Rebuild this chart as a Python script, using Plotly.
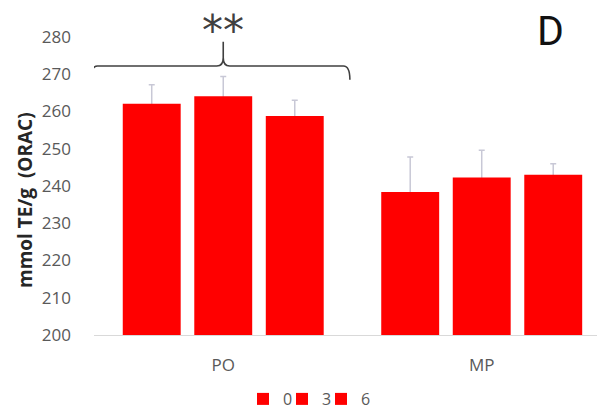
import plotly.graph_objects as go

# ORAC antioxidant capacity by product and storage month
products = ["PO", "MP"]
months = ["0", "3", "6"]
orac_mean = {
    "0": [262.1, 238.4],
    "3": [264.1, 242.3],
    "6": [258.8, 243.0],
}
orac_sd = {
    "0": [5.1, 9.4],
    "3": [5.3, 7.3],
    "6": [4.2, 3.0],
}
y_ticks = [200, 210, 220, 230, 240, 250, 260, 270, 280]
y_range = [200, 280]

BAR_RED = "#ff0000"
TICK_GREY = "#595959"
FONT = "Open Sans"
W, H = 597, 409
M_L, M_T, M_B = 94, 37, 74

fig = go.Figure()
xpos = list(range(len(products)))

# SD whiskers first, on transparent bars sharing each month's slot,
# so the solid bars drawn afterwards hide the lower half
for m in months:
    fig.add_trace(go.Bar(
        x=xpos,
        y=orac_mean[m],
        offsetgroup=m,
        showlegend=False,
        hoverinfo="skip",
        marker=dict(color="rgba(0,0,0,0)", line=dict(width=0)),
        error_y=dict(
            type="data",
            array=orac_sd[m],
            color="#c8c8d6",
            thickness=1.5,
            width=3,
        ),
    ))

legend_ids = ["legend", "legend2", "legend3"]
legend_centres = [263, 302, 341]  # symbol centres, px from the left
for m, lg in zip(months, legend_ids):
    fig.add_trace(go.Bar(
        x=xpos,
        y=orac_mean[m],
        name=m,
        offsetgroup=m,
        legend=lg,
        marker=dict(color=BAR_RED, line=dict(width=0)),
    ))

# curly brace over the PO group with significance marker
x0, x1, xc = -0.512, 0.49, 0.0
y_end, y_line, y_tip = 268.5, 272.2, 278.7
dx = 0.025
brace = (
    f"M {x0},{y_end} Q {x0},{y_line} {x0 + dx},{y_line} "
    f"L {xc - dx},{y_line} Q {xc},{y_line} {xc},{y_line + 2.2} "
    f"L {xc},{y_tip} "
    f"M {xc},{y_line + 2.2} Q {xc},{y_line} {xc + dx},{y_line} "
    f"L {x1 - dx},{y_line} Q {x1},{y_line} {x1},{y_end}"
)
fig.add_shape(type="path", path=brace, xref="x", yref="y",
              line=dict(color="#404040", width=1.6))

plot_h = H - M_T - M_B
plot_w = W - M_L


def paper_x(px):
    return (px - M_L) / plot_w


def paper_y(py):
    return (H - M_B - py) / plot_h


fig.add_annotation(x=xc, y=paper_y(31), xref="x", yref="paper", text="**",
                   showarrow=False, xanchor="center", yanchor="middle",
                   font=dict(family="DejaVu Sans", size=42, color="#404040"))
fig.add_annotation(x=paper_x(550), y=paper_y(31), xref="paper", yref="paper",
                   text="D", showarrow=False, xanchor="center", yanchor="middle",
                   font=dict(family="Roboto", size=41, color="#111111"))
fig.add_annotation(x=paper_x(25), y=paper_y(200), xref="paper", yref="paper",
                   text="<b>mmol TE/g  (ORAC)</b>", textangle=-90, showarrow=False,
                   xanchor="center", yanchor="middle",
                   font=dict(family=FONT, size=19, color="#262626"))

legend_style = dict(
    orientation="h",
    xref="container",
    yref="container",
    xanchor="left",
    yanchor="middle",
    y=1 - 399 / H,
    font=dict(family=FONT, size=16, color=TICK_GREY),
    itemwidth=30,
    bgcolor="rgba(0,0,0,0)",
)
legends = {lg: dict(legend_style, x=(c - 20) / W) for lg, c in zip(legend_ids, legend_centres)}

fig.update_layout(
    width=W,
    height=H,
    margin=dict(l=M_L, r=0, t=M_T, b=M_B, autoexpand=False),
    paper_bgcolor="white",
    plot_bgcolor="white",
    barmode="group",
    bargap=0.17,
    bargroupgap=0.19,
    font=dict(family=FONT, size=17, color=TICK_GREY),
    showlegend=True,
    **legends,
    xaxis=dict(
        range=[-0.5, 1.446],
        tickmode="array",
        tickvals=xpos,
        ticktext=products,
        showgrid=False,
        zeroline=False,
        showline=True,
        linecolor="#d9d9d9",
        linewidth=1,
        ticks="",
        ticklabelstandoff=15,
        tickfont=dict(family=FONT, size=17, color=TICK_GREY),
    ),
    yaxis=dict(
        range=y_range,
        tickmode="array",
        tickvals=y_ticks,
        showgrid=False,
        zeroline=False,
        showline=False,
        ticks="",
        ticklabelstandoff=22,
        tickfont=dict(family=FONT, size=17, color=TICK_GREY),
    ),
)

fig.write_html("out.html")
